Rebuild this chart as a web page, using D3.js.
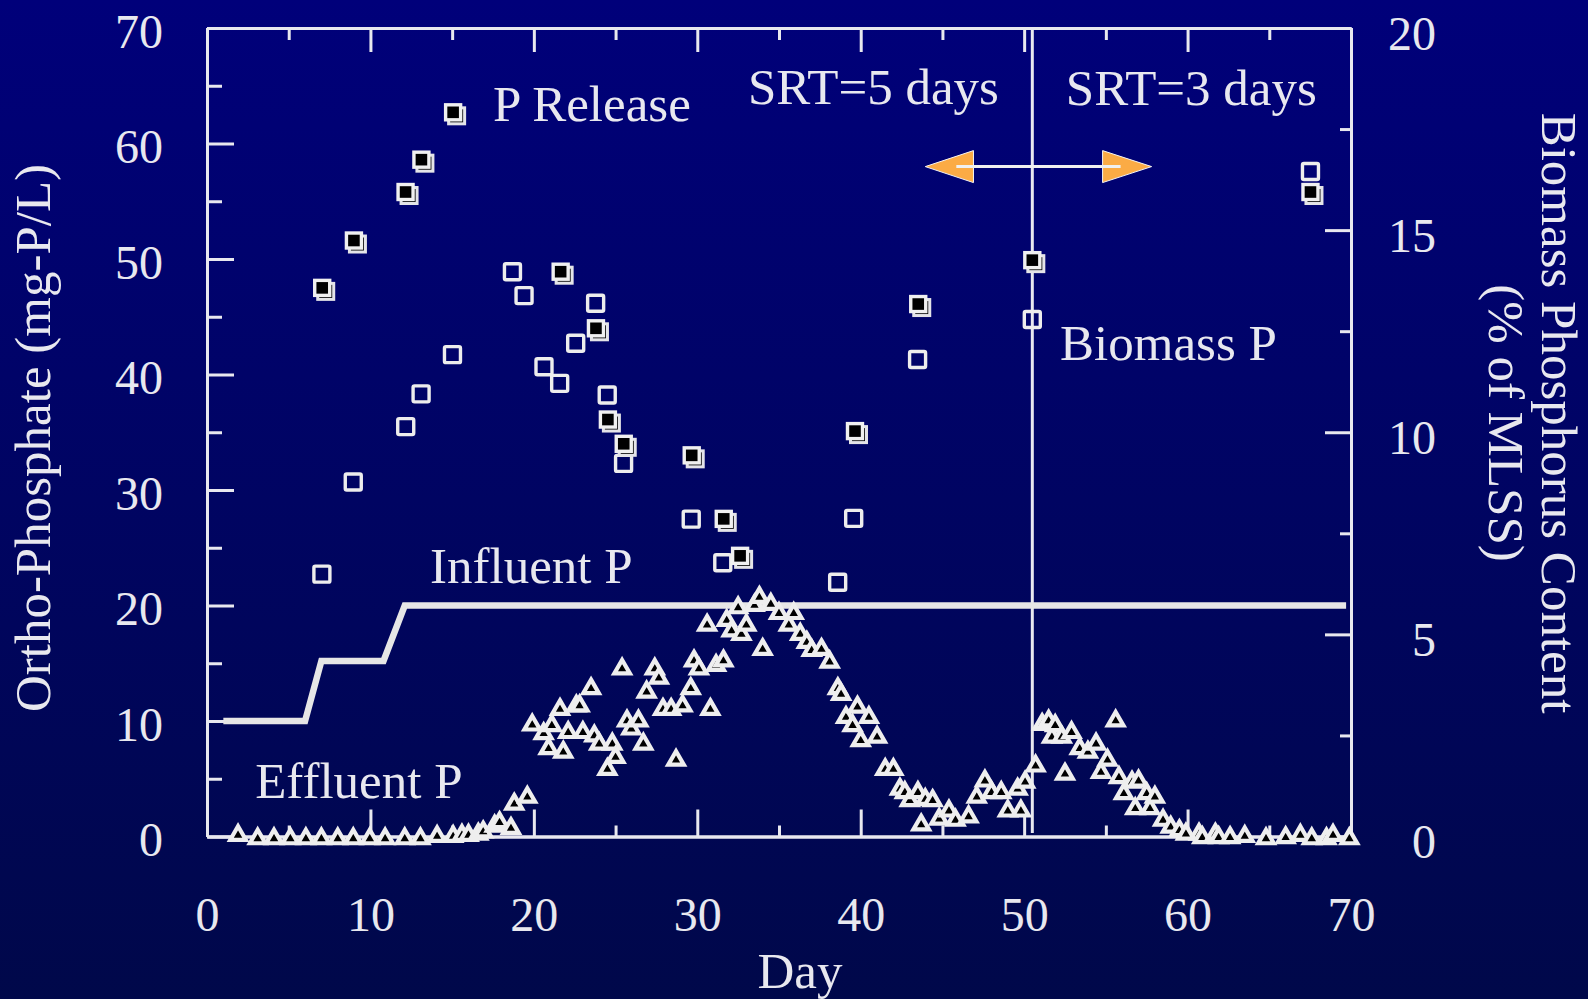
<!DOCTYPE html>
<html>
<head>
<meta charset="utf-8">
<script src="https://cdn.jsdelivr.net/npm/d3@7"></script>
<style>
  html, body { margin: 0; padding: 0; background: #000070; }
  svg { display: block; }
  text { font-family: "Liberation Serif", "Times New Roman", serif; fill: #e8e8ef; }
</style>
</head>
<body>
<svg id="chart" width="1588" height="999"></svg>
<script>
// ---- data ----
var xTicks = [0, 10, 20, 30, 40, 50, 60, 70];
var leftTicks = [0, 10, 20, 30, 40, 50, 60, 70];
var rightTicks = [0, 5, 10, 15, 20];

// influent P step line (mg-P/L)
var influentDay = [1, 6, 7, 10.8, 12.1, 69.7];
var influentP   = [10, 10, 15.2, 15.2, 20, 20];

// P release (filled squares, mg-P/L)
var releaseDay = [7.05, 8.99, 12.15, 13.12, 15.06, 21.64, 23.8, 24.53, 25.5, 29.66, 31.62, 32.62, 39.65, 43.52, 50.5, 67.52];
var releaseP   = [47.5, 51.6, 55.8, 58.6, 62.7, 48.9, 44.0, 36.1, 34.0, 33.0, 27.5, 24.3, 35.1, 46.1, 49.9, 55.8];

// biomass P (open squares, % of MLSS)
var biomassDay = [7.03, 8.95, 12.16, 13.1, 15.02, 18.69, 19.4, 20.62, 21.58, 22.56, 23.78, 24.49, 25.49, 29.63, 31.56, 38.59, 39.57, 43.48, 50.5, 67.52];
var biomassP   = [6.49, 8.77, 10.14, 10.95, 11.92, 13.97, 13.38, 11.62, 11.21, 12.2, 13.19, 10.92, 9.23, 7.85, 6.77, 6.29, 7.87, 11.8, 12.79, 16.45];

// effluent P (triangles, mg-P/L)
var effluentDay = [1.9, 3.1, 4.1, 5.1, 6.05, 7.0, 8.0, 8.95, 9.96, 10.9, 12.1, 13.06, 14.08, 15.06, 15.6, 16.0, 16.6, 16.9, 17.6, 17.9,
  18.6, 18.8, 19.6, 19.9, 20.6, 20.9, 21.1, 21.6, 21.8, 22.1, 22.6, 22.8, 23.0, 23.5, 23.7, 24.0, 24.5, 24.8, 25.0, 25.4,
  25.7, 25.96, 26.4, 26.7, 26.9, 27.4, 27.65, 27.9, 28.4, 28.7, 29.1, 29.6, 29.8, 30.1, 30.6, 30.8, 31.15, 31.6, 31.8, 32.1,
  32.5, 32.7, 33.0, 33.5, 33.8, 34.0, 34.5, 35.0, 35.6, 35.9, 36.3, 36.7, 37.0, 37.6, 38.1, 38.6, 38.8, 39.1, 39.5, 39.8,
  40.0, 40.5, 41.0, 41.5, 42.0, 42.4, 42.7, 43.0, 43.5, 43.7, 43.95, 44.4, 44.8, 45.4, 45.8, 46.6, 47.1, 47.6, 48.0, 48.6,
  49.0, 49.6, 49.8, 50.06, 50.7, 51.1, 51.5, 51.7, 51.9, 52.3, 52.5, 52.9, 53.4, 53.9, 54.4, 54.7, 55.1, 55.6, 55.8, 56.1,
  56.6, 56.8, 57.0, 57.5, 57.7, 58.0, 58.5, 58.97, 59.5, 59.9, 60.7, 60.9, 61.7, 61.9, 62.6, 63.5, 64.8, 66.0, 66.9, 67.6,
  68.5, 68.9, 69.9];
var effluentP = [0.3, 0, 0, 0, 0, 0, 0, 0, 0, 0, 0, 0, 0.2, 0.2, 0.3, 0.3, 0.4, 0.6, 1.1, 1.4,
  0.9, 3.0, 3.6, 9.85, 9.1, 7.8, 9.8, 11.2, 7.5, 9.2, 11.5, 11.5, 9.2, 13.0, 8.9, 8.2, 6.0, 8.2, 7.05, 14.7,
  10.2, 9.5, 10.2, 8.2, 12.7, 14.7, 13.9, 11.2, 11.2, 6.8, 11.5, 13.0, 15.4, 14.7, 18.5, 11.2, 15.0, 15.4, 18.9, 18.0,
  20.0, 17.7, 18.5, 20.2, 20.9, 16.4, 20.3, 19.5, 18.5, 19.5, 17.7, 17.0, 16.3, 16.4, 15.3, 13.0, 12.5, 10.5, 9.8, 11.4,
  8.5, 10.5, 8.8, 6.0, 6.0, 4.3, 4.0, 3.3, 4.0, 1.2, 3.4, 3.3, 1.7, 2.4, 1.6, 1.9, 3.6, 5.0, 4.0, 4.0,
  2.4, 4.3, 2.4, 4.9, 6.3, 9.9, 10.2, 8.8, 9.8, 8.8, 5.6, 9.2, 7.8, 7.5, 8.2, 5.75, 6.8, 10.2, 5.3, 3.9,
  4.9, 2.6, 5.0, 3.9, 2.6, 3.6, 1.6, 1.0, 0.7, 0.4, 0.4, 0.1, 0.4, 0.1, 0.1, 0.2, 0, 0.1, 0.3, 0,
  0, 0.3, 0];

var srtChangeDay = 50.5;

var svg = d3.select("#chart"),
    width = +svg.attr("width"),
    height = +svg.attr("height"),
    ink = "#e8e8ef";

var x = d3.scaleLinear().domain([0, 70]).range([207, 1351]),
    yL = d3.scaleLinear().domain([0, 70]).range([836.5, 28]),
    yR = d3.scaleLinear().domain([0, 20]).range([836.5, 28]);

// background gradient
var grad = svg.append("defs").append("linearGradient")
  .attr("id", "bg").attr("x1", 0).attr("y1", 0).attr("x2", 0).attr("y2", 1);
grad.append("stop").attr("offset", "0%").attr("stop-color", "#00007a");
grad.append("stop").attr("offset", "100%").attr("stop-color", "#00084a");
svg.append("rect").attr("width", width).attr("height", height).attr("fill", "url(#bg)");

function styleAxis(g) {
  g.selectAll("path.domain").attr("stroke", ink).attr("stroke-width", 3);
  g.selectAll(".tick line").attr("stroke", ink).attr("stroke-width", 3);
  g.selectAll("text").attr("fill", ink)
    .style("font-family", '"Liberation Serif", "Times New Roman", serif')
    .style("font-size", "48px");
}

function minor(domain, step) {
  return d3.range(domain[0] + step / 2, domain[1], step);
}

// left axis
var leftAxis = svg.append("g").attr("transform", "translate(" + x(0) + ",0)")
  .call(d3.axisLeft(yL).tickValues(leftTicks).tickSizeInner(-27).tickSizeOuter(0).tickPadding(44))
  .call(styleAxis);
leftAxis.selectAll("text").attr("y", 4);
svg.append("g").attr("transform", "translate(" + x(0) + ",0)")
  .call(d3.axisLeft(yL).tickValues(minor([0, 70], 10)).tickSizeInner(-15).tickSizeOuter(0).tickFormat(""))
  .call(styleAxis);

// right axis
var rightAxis = svg.append("g").attr("transform", "translate(" + x(70) + ",0)")
  .call(d3.axisRight(yR).tickValues(rightTicks).tickSizeInner(-26).tickSizeOuter(0).tickPadding(85))
  .call(styleAxis);
rightAxis.selectAll("text").attr("text-anchor", "end").attr("y", 6);
svg.append("g").attr("transform", "translate(" + x(70) + ",0)")
  .call(d3.axisRight(yR).tickValues(minor([0, 20], 5)).tickSizeInner(-11).tickSizeOuter(0).tickFormat(""))
  .call(styleAxis);

// bottom axis
svg.append("g").attr("transform", "translate(0," + yL(0) + ")")
  .call(d3.axisBottom(x).tickValues(xTicks).tickSizeInner(-27).tickSizeOuter(0).tickPadding(60))
  .call(styleAxis);
svg.append("g").attr("transform", "translate(0," + yL(0) + ")")
  .call(d3.axisBottom(x).tickValues(minor([0, 70], 10)).tickSizeInner(-11).tickSizeOuter(0).tickFormat(""))
  .call(styleAxis);

// top axis
svg.append("g").attr("transform", "translate(0," + yL(70) + ")")
  .call(d3.axisTop(x).tickValues(xTicks).tickSizeInner(-24).tickSizeOuter(0).tickFormat(""))
  .call(styleAxis);
svg.append("g").attr("transform", "translate(0," + yL(70) + ")")
  .call(d3.axisTop(x).tickValues(minor([0, 70], 10)).tickSizeInner(-12).tickSizeOuter(0).tickFormat(""))
  .call(styleAxis);

// axis titles
svg.append("text")
  .attr("transform", "translate(50," + 438 + ") rotate(-90)")
  .attr("text-anchor", "middle")
  .style("font-size", "51px")
  .text("Ortho-Phosphate (mg-P/L)");

var rt = svg.append("text")
  .attr("transform", "translate(1542,413) rotate(90)")
  .attr("text-anchor", "middle")
  .style("font-size", "51px");
rt.append("tspan").attr("x", 0).attr("dy", 0).text("Biomass Phosphorus Content");
rt.append("tspan").attr("x", 10).attr("dy", "1.03em").text("(% of MLSS)");

svg.append("text")
  .attr("x", 800).attr("y", 988)
  .attr("text-anchor", "middle")
  .style("font-size", "51px")
  .text("Day");

// SRT divider
svg.append("line")
  .attr("x1", x(srtChangeDay)).attr("x2", x(srtChangeDay))
  .attr("y1", yL(70)).attr("y2", yL(0.3))
  .attr("stroke", ink).attr("stroke-width", 3);

// influent step line
var influent = d3.zip(influentDay, influentP);
svg.append("path")
  .datum(influent)
  .attr("fill", "none")
  .attr("stroke", "#e6e6e6")
  .attr("stroke-width", 6.5)
  .attr("d", d3.line().x(function (d) { return x(d[0]); }).y(function (d) { return yL(d[1]); }));

// open squares: biomass P
var sq = 16;
svg.append("g").selectAll("rect")
  .data(d3.zip(biomassDay, biomassP))
  .join("rect")
  .attr("x", function (d) { return x(d[0]) - sq / 2; })
  .attr("y", function (d) { return yR(d[1]) - sq / 2; })
  .attr("width", sq).attr("height", sq)
  .attr("rx", 1.5)
  .attr("fill", "none")
  .attr("stroke", "#ededed")
  .attr("stroke-width", 3.4);

// filled squares with shadow: P release
var fs = 15;
var rel = svg.append("g").selectAll("g")
  .data(d3.zip(releaseDay, releaseP))
  .join("g")
  .attr("transform", function (d) { return "translate(" + x(d[0]) + "," + yL(d[1]) + ")"; });
rel.append("rect")
  .attr("x", -fs / 2 + 3).attr("y", -fs / 2 + 3)
  .attr("width", fs + 1).attr("height", fs + 1)
  .attr("fill", "#000").attr("stroke", "#e4e4e8").attr("stroke-width", 3);
rel.append("rect")
  .attr("x", -fs / 2).attr("y", -fs / 2)
  .attr("width", fs).attr("height", fs)
  .attr("fill", "#000").attr("stroke", "#f0f0f0").attr("stroke-width", 3.4);

// triangles: effluent P
var triSize = 105,
    triY = Math.sqrt(triSize / (Math.sqrt(3) * 3));
svg.append("g").selectAll("path")
  .data(d3.zip(effluentDay, effluentP))
  .join("path")
  .attr("d", d3.symbol().type(d3.symbolTriangle).size(triSize))
  .attr("transform", function (d) { return "translate(" + x(d[0]) + "," + (yL(d[1]) + triY / 2) + ")"; })
  .attr("fill", "#000")
  .attr("stroke", "#eeeeee")
  .attr("stroke-width", 4.2);

// double-headed arrow across the SRT change
var arrowY = yL(58),
    headH = 16,
    arrow = { leftTip: 43.95, leftBase: 46.9, rightBase: 54.8, rightTip: 57.8 };
var heads = [
  [[x(arrow.leftTip), arrowY], [x(arrow.leftBase), arrowY - headH], [x(arrow.leftBase), arrowY + headH]],
  [[x(arrow.rightTip), arrowY], [x(arrow.rightBase), arrowY - headH], [x(arrow.rightBase), arrowY + headH]]
];
svg.append("g").selectAll("path")
  .data(heads)
  .join("path")
  .attr("d", function (d) { return "M" + d.join("L") + "Z"; })
  .attr("fill", "#fbab45")
  .attr("stroke", "#f4f4f4")
  .attr("stroke-width", 1);
svg.append("line")
  .attr("x1", x(arrow.leftTip + 1.9)).attr("x2", x(arrow.rightTip - 1.9))
  .attr("y1", arrowY).attr("y2", arrowY)
  .attr("stroke", "#f0f0f0").attr("stroke-width", 3);

// annotations
var notes = [
  { t: "P Release", d: 17.5, v: yL.invert(121) },
  { t: "SRT=5 days", d: 33.1, v: yL.invert(104) },
  { t: "SRT=3 days", d: 52.55, v: yL.invert(105) },
  { t: "Biomass P", d: 52.2, v: yL.invert(360) },
  { t: "Influent P", d: 13.65, v: yL.invert(583) },
  { t: "Effluent P", d: 2.95, v: yL.invert(798) }
];
svg.append("g").selectAll("text")
  .data(notes)
  .join("text")
  .attr("x", function (d) { return x(d.d); })
  .attr("y", function (d) { return yL(d.v); })
  .style("font-size", "51px")
  .text(function (d) { return d.t; });
</script>
</body>
</html>
